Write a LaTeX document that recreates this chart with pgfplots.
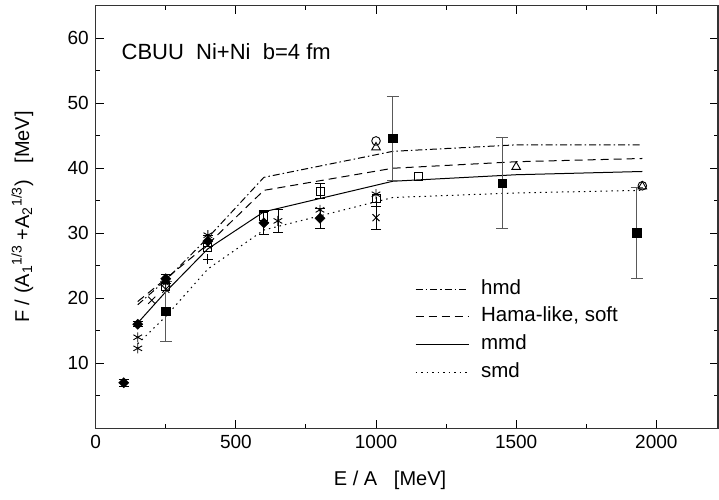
\documentclass[border=0pt]{standalone}
\usepackage{fontspec}
\setmainfont{Liberation Sans}
\usepackage{pgfplots}
\pgfplotsset{compat=1.18}
\usetikzlibrary{calc}
\begin{document}
\begin{tikzpicture}
\begin{axis}[
  scale only axis,
  width=622.3bp, height=422.6bp,
  xmin=0, xmax=2220, ymin=0, ymax=65,
  xtick={0,500,1000,1500,2000},
  minor xtick={250,750,1250,1750},
  ytick={10,20,30,40,50,60},
  minor ytick={5,15,25,35,45,55},
  major tick length=8bp, minor tick length=4.5bp,
  every tick/.style={black, line width=1bp},
  axis line style={line width=1.4bp, black!80},
  /pgf/number format/assume math mode=true,
  /pgf/number format/1000 sep={},
  ticklabel style={font=\fontsize{19bp}{22bp}\selectfont},
  xticklabel style={yshift=-3.5bp},
  yticklabel style={xshift=-3.4bp},
  xlabel={E / A\ \ \ [MeV]},
  ylabel={F / (A\textsubscript{1}\textsuperscript{1/3} +A\textsubscript{2}\textsuperscript{1/3})\ \ \ [MeV]},
  label style={font=\fontsize{20bp}{24bp}\selectfont},
  xlabel style={at={(axis description cs:0.473,-0.122)}, anchor=center},
  ylabel style={at={(axis description cs:-0.118,0.5)}, anchor=center},
  legend cell align=left,
  legend image code/.code={\draw[#1] (0bp,0bp) -- (53bp,0bp);},
  legend style={draw=none, fill=none, inner sep=0pt,
    at={(rel axis cs:0.513,0.362)}, anchor=north west,
    font=\fontsize{20.5bp}{24bp}\selectfont,
    nodes={inner xsep=3bp, inner ysep=4.8bp, text height=14bp, text depth=4bp},
    column sep=9bp},
  err/.style={error bars/.cd, y dir=both, y explicit,
    error bar style={line width=0.8bp, black},
    error mark options={line width=0.8bp, mark size=5bp, black, rotate=90}},
]
% model curves
\addplot[black, line width=1bp, dash pattern=on 7bp off 3bp on 1.5bp off 3bp] coordinates {
(150,19.0) (250,22.8) (400,29.3) (600,38.6) (1060,42.6) (1500,43.6) (1950,43.6)};
\addlegendentry{hmd}
\addplot[black, line width=1bp, dash pattern=on 8bp off 5bp] coordinates {
(150,19.5) (250,23.0) (400,28.3) (600,36.6) (1060,40.0) (1500,41.0) (1950,41.5)};
\addlegendentry{Hama-like, soft}
\addplot[black, line width=1bp] coordinates {
(150,16.2) (250,21.0) (400,27.6) (600,33.3) (1060,38.0) (1500,39.0) (1950,39.5)};
\addlegendentry{mmd}
\addplot[black, line width=1bp, dash pattern=on 1.5bp off 4bp] coordinates {
(150,13.0) (250,17.2) (400,24.5) (600,30.5) (1060,35.5) (1500,36.2) (1950,36.6)};
\addlegendentry{smd}
% data: filled diamonds with error bars
\addplot[forget plot, only marks, black, mark=square*, mark size=3.6bp, mark options={rotate=45}, err]
  table[x=x, y=y, y error=e] {
x y e
100 7.0 0.5
150 16.0 0.4
250 23.0 0.7
400 28.8 0.8
600 31.6 1.8
800 32.3 1.5
};
% filled squares with error bars
\addplot[forget plot, only marks, black, mark=square*, mark size=4.3bp,
  error bars/.cd, y dir=both, y explicit,
  error bar style={line width=0.8bp, black!65},
  error mark options={line width=0.8bp, mark size=6bp, black!65, rotate=90}]
  table[x=x, y=y, y error=e] {
x y e
250 18.0 4.6
1060 44.6 6.4
1450 37.7 7.0
1930 30.1 7.0
};
% asterisks
\addplot[forget plot, only marks, black, mark=asterisk, mark size=5bp, line width=0.9bp] coordinates {
(150,14.0) (150,12.3) (250,22.3) (400,29.7) (800,33.6) (1000,36.0)};
\addplot[forget plot, only marks, black, mark=asterisk, mark size=5bp, line width=0.9bp, err]
  coordinates {(650,31.9) +- (0,1.7)};
% crosses
\addplot[forget plot, only marks, black, mark=x, mark size=5bp, line width=0.9bp] coordinates {
(200,19.7) (250,21.4) (400,28.2)};
\addplot[forget plot, only marks, black, mark=x, mark size=5bp, line width=0.9bp, err]
  coordinates {(1000,32.4) +- (0,1.8)};
% open squares
\addplot[forget plot, only marks, black, mark=square, mark size=4bp, line width=0.9bp, mark options={fill=white}] coordinates {
(250,21.8) (400,27.8) (1000,35.4) (1150,38.8)};
\addplot[forget plot, only marks, black, mark=square, mark size=4bp, line width=0.9bp, mark options={fill=white}, err]
  coordinates {(600,32.6) +- (0,0.9) (800,36.5) +- (0,1.2)};
% plus
\addplot[forget plot, only marks, black, mark=+, mark size=5bp, line width=0.9bp] coordinates {
(400,26.0) (1000,34.8)};
% open triangles
\addplot[forget plot, only marks, black, mark=triangle, mark size=5bp, line width=0.9bp] coordinates {
(1000,43.2) (1500,40.2) (1950,37.2)};
% open circles
\addplot[forget plot, only marks, black, mark=o, mark size=4.3bp, line width=0.9bp] coordinates {
(1000,44.2) (1950,37.3)};
\node[anchor=west, inner sep=0pt, font=\fontsize{22bp}{26bp}\selectfont] at (axis cs:92,57.9) {CBUU\ \ Ni+Ni\ \ b=4 fm};
\coordinate (SW) at (rel axis cs:0,0);
\coordinate (NE) at (rel axis cs:1,1);
\end{axis}
\pgfresetboundingbox
\path ($(SW)+(-95.7bp,-71.7bp)$) rectangle ($(NE)+(1bp,5.7bp)$);
\end{tikzpicture}
\end{document}
